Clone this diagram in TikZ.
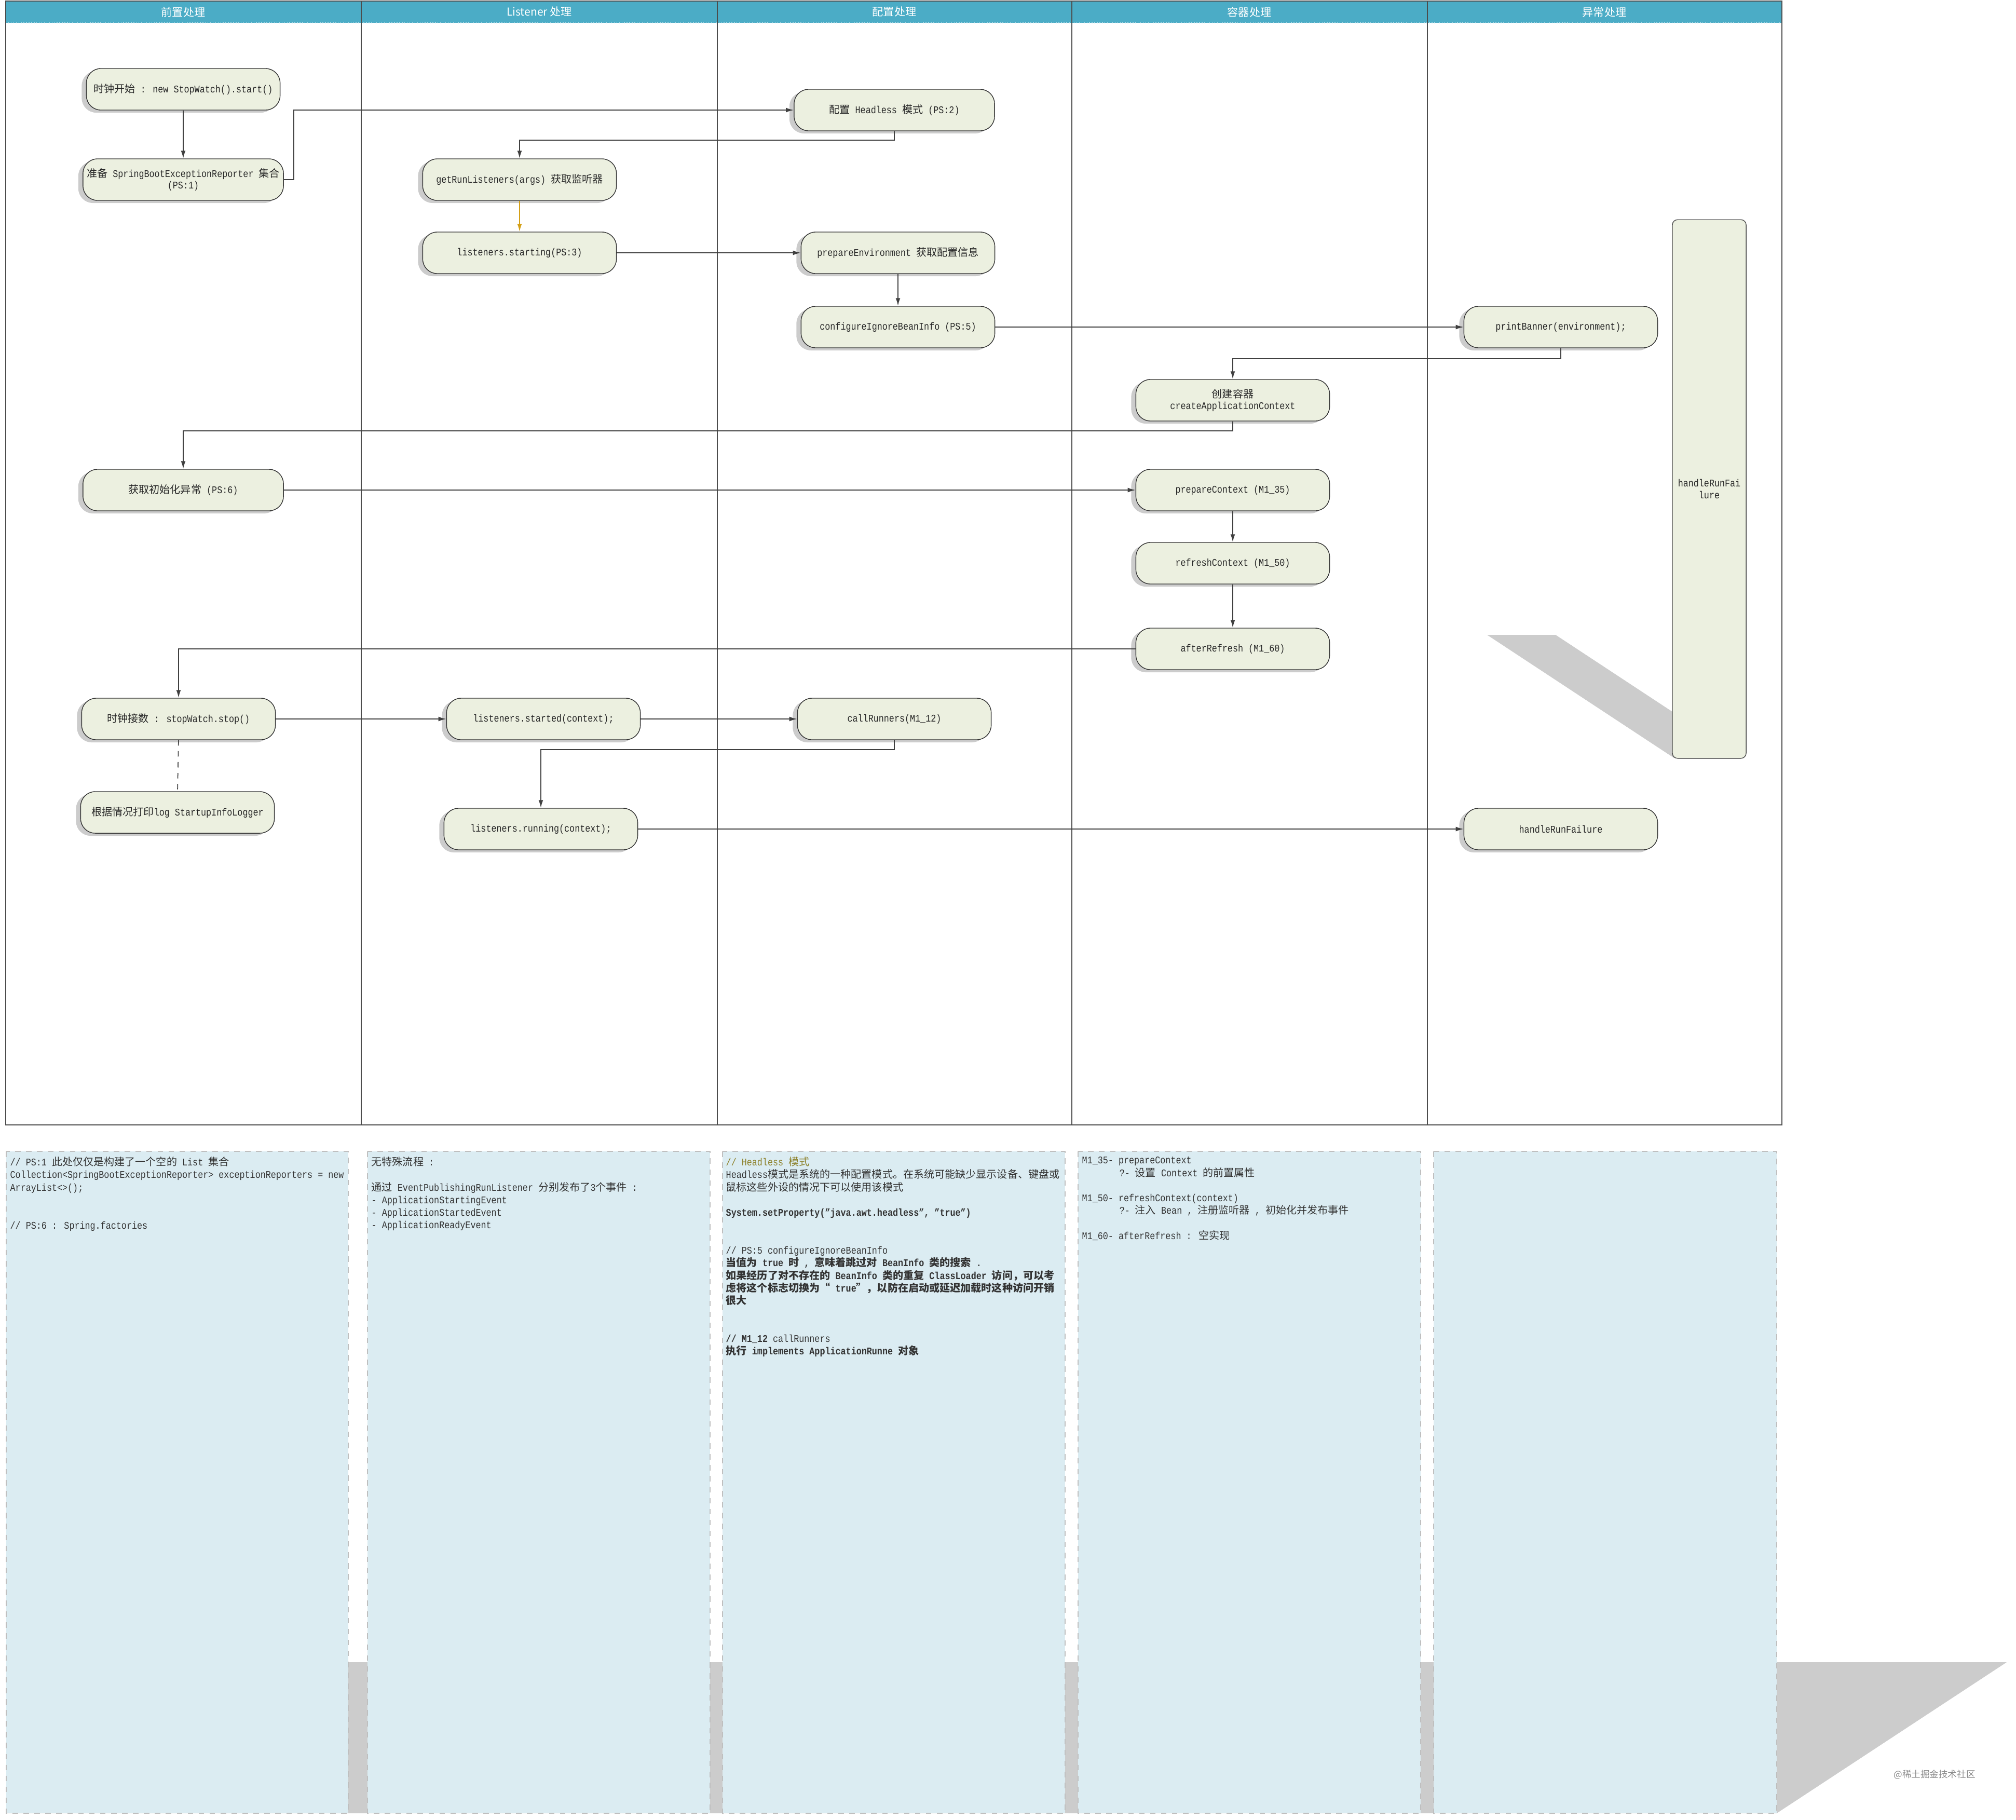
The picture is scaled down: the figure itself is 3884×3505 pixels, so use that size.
\documentclass[tikz,border=0pt]{standalone}
\usepackage{fontspec}
\setmainfont[FakeStretch=0.85]{Liberation Mono}
\newfontfamily\cjk[Scale=1.02]{Noto Sans CJK SC}
\newfontfamily\lanefont{Noto Sans CJK SC}
\newcommand{\zhtext}[1]{{\cjk #1}}
\usetikzlibrary{arrows.meta,shadows}
\definecolor{nodefill}{RGB}{236,240,224}
\definecolor{notefill}{RGB}{219,236,242}
\definecolor{lanehead}{RGB}{75,172,198}
\definecolor{shadowgray}{RGB}{204,204,204}
\definecolor{goldline}{RGB}{212,160,23}
\definecolor{olivetext}{RGB}{140,128,40}
\tikzset{
  stepbox/.style={draw=black!80, fill=nodefill, rounded corners=0.28cm, minimum width=3.73cm, minimum height=0.8cm, inner sep=0pt, align=center, text=black!85, font=\fontsize{5.6}{6.5}\selectfont, drop shadow={shadow xshift=-0.09cm, shadow yshift=-0.05cm, fill=black!40, opacity=0.5}},
  widebox/.style={stepbox, minimum width=3.86cm},
  failbar/.style={draw=black!70, fill=nodefill, rounded corners=0.1cm, minimum width=1.42cm, minimum height=10.37cm, inner sep=0pt, align=center, text=black!85, font=\fontsize{5.6}{6.5}\selectfont},
  flow/.style={draw=black!75, line width=0.5pt, -{Latex[length=0.15cm,width=0.09cm]}},
  notebox/.style={fill=notefill, draw=black!25, dashed, line width=0.5pt},
  notetext/.style={anchor=north west, inner sep=0pt, align=left, text=black!80, font=\fontsize{5.6}{6.9}\selectfont}
}
\begin{document}
\begin{tikzpicture}[x=0.01cm, y=-0.01cm]
\useasboundingbox (0,0) rectangle (3884,3505);
% swimlanes
\fill[lanehead] (11,2) rectangle (3433,44);
\draw[white!60!lanehead, densely dotted] (11,44) -- (3433,44);
\foreach \x/\lbl/\nm in {353/前置处理/hprep, 1039/Listener 处理/hlisten, 1723/配置处理/hconf, 2407/容器处理/hctx, 3091/异常处理/herr}
  \node[text=white, font=\lanefont\fontsize{6}{7}\selectfont] (\nm) at (\x,23) {\lbl};
\foreach \x in {696,1382,2065,2750} \draw[black!70, line width=0.4pt] (\x,2) -- (\x,2167);
\draw[black!70, line width=0.5pt] (11,2) rectangle (3433,2167);

% steps
\node[stepbox] (start) at (353,172) {\zhtext{时钟开始} : new StopWatch().start()};
\node[widebox] (reporter) at (353,346) {\zhtext{准备} SpringBootExceptionReporter \zhtext{集合}\\(PS:1)};
\node[widebox] (headless) at (1723,212) {\zhtext{配置} Headless \zhtext{模式} (PS:2)};
\node[stepbox] (listeners) at (1001,346) {getRunListeners(args) \zhtext{获取监听器}};
\node[stepbox] (starting) at (1001,487) {listeners.starting(PS:3)};
\node[stepbox] (prepenv) at (1730,487) {prepareEnvironment \zhtext{获取配置信息}};
\node[stepbox] (ignore) at (1730,630) {configureIgnoreBeanInfo (PS:5)};
\node[stepbox] (banner) at (3007,630) {printBanner(environment);};
\node[stepbox] (create) at (2375,771) {\zhtext{创建容器}\\createApplicationContext};
\node[widebox] (initerr) at (353,944) {\zhtext{获取初始化异常} (PS:6)};
\node[stepbox] (prepctx) at (2375,944) {prepareContext (M1\_35)};
\node[stepbox] (refresh) at (2375,1085) {refreshContext (M1\_50)};
\node[stepbox] (afterref) at (2375,1250) {afterRefresh (M1\_60)};
\node[stepbox] (stop) at (344,1385) {\zhtext{时钟接数} : stopWatch.stop()};
\node[stepbox] (logger) at (342,1565) {\zhtext{根据情况打印}log StartupInfoLogger};
\node[stepbox] (started) at (1047,1385) {listeners.started(context);};
\node[stepbox] (runners) at (1723,1385) {callRunners(M1\_12)};
\node[stepbox] (running) at (1042,1597) {listeners.running(context);};
\node[stepbox] (failure) at (3007,1597) {handleRunFailure};
\fill[shadowgray] (2865,1223) -- (2997,1223) -- (3357,1460) -- (3225,1460) -- cycle;
\node[failbar] (failbar) at (3293,942) {handleRunFai\\lure};

% connectors
\draw[flow] (start.south) -- (reporter.north);
\draw[flow] (reporter.east) -- ++(19,0) |- (headless.west);
\draw[flow] (headless.south) -- ++(0,17) -| (listeners.north);
\draw[flow, draw=goldline] (listeners.south) -- (starting.north);
\draw[flow] (starting.east) -- (prepenv.west);
\draw[flow] (prepenv.south) -- (ignore.north);
\draw[flow] (ignore.east) -- (banner.west);
\draw[flow] (banner.south) -- ++(0,20) -| (create.north);
\draw[flow] (create.south) -- ++(0,18) -| (initerr.north);
\draw[flow] (initerr.east) -- (prepctx.west);
\draw[flow] (prepctx.south) -- (refresh.north);
\draw[flow] (refresh.south) -- (afterref.north);
\draw[flow] (afterref.west) -| (stop.north);
\draw[flow] (stop.east) -- (started.west);
\draw[black!70, line width=0.5pt, dashed] (stop.south) -- (logger.north);
\draw[flow] (started.east) -- (runners.west);
\draw[flow] (runners.south) -- ++(0,18) -| (running.north);
\draw[flow] (running.east) -- (failure.west);

% notes
\fill[shadowgray] (12,3202) -- (3866,3202) -- (3423,3493) -- (12,3493) -- cycle;
\foreach \a/\b in {12/671, 708/1368, 1392/2052, 2077/2737, 2762/3423}
  \draw[notebox] (\a,2218) rectangle (\b,3493);
\node[notetext] (psnote) at (19,2228) {// PS:1 \zhtext{此处仅仅是构建了一个空的} List \zhtext{集合}\\
Collection<SpringBootExceptionReporter> exceptionReporters = new\\
ArrayList<>();\\[13.8pt]
// PS:6 : Spring.factories};
\node[notetext] (listennote) at (715,2228) {\zhtext{无特殊流程} :\\[6.9pt]
\zhtext{通过} EventPublishingRunListener \zhtext{分别发布了}3\zhtext{个事件} :\\
- ApplicationStartingEvent\\
- ApplicationStartedEvent\\
- ApplicationReadyEvent};
\node[notetext] (confignote) at (1398,2228) {{\color{olivetext}// Headless \zhtext{模式}}\\
Headless\zhtext{模式是系统的一种配置模式。在系统可能缺少显示设备、键盘或}\\
\zhtext{鼠标这些外设的情况下可以使用该模式}\\[6.9pt]
\textbf{System.setProperty("java.awt.headless", "true")}\\[13.8pt]
// PS:5 configureIgnoreBeanInfo\\
\textbf{\zhtext{当值为} true \zhtext{时} , \zhtext{意味着跳过对} BeanInfo \zhtext{类的搜索} .}\\
\textbf{\zhtext{如果经历了对不存在的} BeanInfo \zhtext{类的重复} ClassLoader \zhtext{访问，可以考}}\\
\textbf{\zhtext{虑将这个标志切换为“} true\zhtext{”，以防在启动或延迟加载时这种访问开销}}\\
\textbf{\zhtext{很大}}\\[13.8pt]
\textbf{// M1\_12} callRunners\\
\textbf{\zhtext{执行} implements ApplicationRunne \zhtext{对象}}};
\node[notetext] (ctxnote) at (2084,2228) {M1\_35- prepareContext\\
\hspace*{0.72cm}?- \zhtext{设置} Context \zhtext{的前置属性}\\[6.9pt]
M1\_50- refreshContext(context)\\
\hspace*{0.72cm}?- \zhtext{注入} Bean , \zhtext{注册监听器} , \zhtext{初始化并发布事件}\\[6.9pt]
M1\_60- afterRefresh : \zhtext{空实现}};
\node[text=black!45, font=\lanefont\fontsize{5}{6}\selectfont] (mark) at (3727,3419) {@稀土掘金技术社区};
\end{tikzpicture}
\end{document}
